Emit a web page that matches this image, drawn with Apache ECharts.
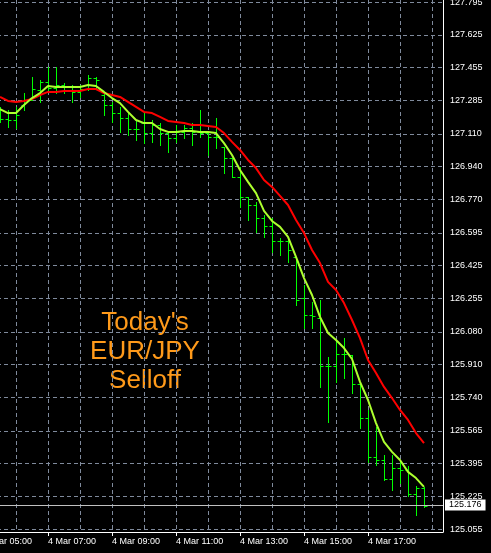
<!DOCTYPE html>
<html>
<head>
<meta charset="utf-8">
<script src="https://cdn.jsdelivr.net/npm/echarts@6/dist/echarts.min.js"></script>
<style>
html,body{margin:0;padding:0;background:#000;}
#chart{width:491px;height:553px;}
</style>
</head>
<body>
<div id="chart"></div>
<script>
// EUR/JPY M15 bars, 4 Mar
var firstBarHour = 5.5;      // 05:30
var barStepHours = 0.25;     // 15-minute bars
var opens = [127.224,127.187,127.182,127.260,127.286,127.338,127.380,127.348,127.364,127.359,
  127.328,127.343,127.400,127.312,127.260,127.218,127.192,127.135,127.166,127.114,
  127.156,127.114,127.088,127.120,127.140,127.120,127.114,127.094,127.042,126.984,
  126.886,126.782,126.740,126.672,126.631,126.553,126.553,126.470,126.256,126.168,
  126.152,125.903,125.903,125.965,125.960,125.809,125.632,125.430,125.414,125.315,
  125.372,125.362,125.237,125.268];
var highs = [127.250,127.234,127.250,127.322,127.406,127.390,127.458,127.458,127.374,127.364,
  127.364,127.416,127.406,127.328,127.276,127.250,127.224,127.182,127.218,127.182,
  127.166,127.120,127.156,127.156,127.166,127.234,127.114,127.192,127.042,126.984,
  126.938,126.782,126.756,126.688,126.672,126.568,126.574,126.470,126.324,126.236,
  126.246,125.950,126.038,126.048,125.960,125.820,125.674,125.586,125.440,125.440,
  125.409,125.383,125.279,125.274];
var lows = [127.172,127.146,127.140,127.234,127.286,127.276,127.328,127.322,127.322,127.276,
  127.302,127.338,127.348,127.208,127.172,127.120,127.104,127.078,127.062,127.068,
  127.052,127.016,127.068,127.088,127.052,127.094,127.000,127.036,126.906,126.886,
  126.730,126.662,126.600,126.574,126.496,126.480,126.444,126.220,126.100,126.100,
  125.794,125.612,125.820,125.840,125.762,125.580,125.404,125.388,125.310,125.258,
  125.294,125.227,125.128,125.170];
var closes = [127.187,127.182,127.208,127.286,127.343,127.380,127.348,127.364,127.359,127.328,
  127.343,127.400,127.390,127.260,127.218,127.192,127.135,127.135,127.114,127.156,
  127.114,127.088,127.120,127.140,127.120,127.114,127.094,127.094,126.984,126.886,
  126.782,126.740,126.672,126.631,126.553,126.553,126.506,126.246,126.168,126.163,
  125.903,125.903,125.965,125.965,125.809,125.632,125.430,125.414,125.315,125.372,
  125.362,125.237,125.268,125.176];
var fastMA = [127.239,127.218,127.218,127.260,127.296,127.322,127.359,127.354,127.354,127.354,
  127.354,127.364,127.359,127.328,127.296,127.270,127.224,127.182,127.166,127.166,
  127.135,127.120,127.120,127.125,127.125,127.120,127.120,127.114,127.062,127.000,
  126.922,126.860,126.802,126.709,126.657,126.626,126.574,126.470,126.360,126.272,
  126.158,126.074,126.038,125.996,125.939,125.820,125.726,125.606,125.508,125.456,
  125.414,125.352,125.320,125.274];
var slowMA = [127.302,127.281,127.276,127.281,127.291,127.312,127.328,127.328,127.333,127.333,
  127.333,127.343,127.343,127.322,127.312,127.302,127.276,127.250,127.224,127.218,
  127.198,127.177,127.172,127.166,127.156,127.156,127.151,127.146,127.114,127.068,
  127.026,126.974,126.932,126.870,126.834,126.787,126.740,126.662,126.594,126.506,
  126.438,126.340,126.298,126.230,126.142,126.048,125.934,125.866,125.794,125.736,
  125.674,125.622,125.554,125.502];
var priceTicks = [125.055,125.225,125.395,125.565,125.740,125.910,126.080,126.255,126.425,
  126.595,126.770,126.940,127.110,127.285,127.455,127.625,127.795];
var priceLabels = ['125.055','125.225','125.395','125.565','125.740','125.910','126.080','126.255','126.425',
  '126.595','126.770','126.940','127.110','127.285','127.455','127.625','127.795'];
var timeTickHours = [5,7,9,11,13,15,17];
var timeTickLabels = ['4 Mar 05:00','4 Mar 07:00','4 Mar 09:00','4 Mar 11:00','4 Mar 13:00','4 Mar 15:00','4 Mar 17:00'];
var gridHours = [5,6,7,8,9,10,11,12,13,14,15,16,17,18,19];
var lastPrice = 125.176;
var annotation = "Today's\nEUR/JPY\nSelloff";

var barData = [], fastData = [], slowData = [];
for (var i = 0; i < closes.length; i++) {
  var t = firstBarHour + i * barStepHours;
  barData.push([t, opens[i], highs[i], lows[i], closes[i]]);
  fastData.push([t, fastMA[i]]);
  slowData.push([t, slowMA[i]]);
}

var FONT = 'Liberation Sans';
var chart = echarts.init(document.getElementById('chart'), null, {renderer: 'canvas'});
var gridCol = '#7f8a9c';

chart.setOption({
  backgroundColor: '#000000',
  animation: false,
  grid: {left: -24, right: 48, top: 0, bottom: 21, containLabel: false, outerBoundsMode: 'none'},
  xAxis: [{
    type: 'value', min: 4.75, max: 19.34375,
    axisLine: {show: true, lineStyle: {color: '#ffffff', width: 1}},
    axisTick: {show: true, length: 4, inside: false, lineStyle: {color: '#ffffff'}, customValues: timeTickHours},
    axisLabel: {
      show: true, color: '#ffffff', fontFamily: FONT, fontSize: 9, margin: 5, align: 'left',
      customValues: timeTickHours, hideOverlap: false,
      formatter: function (v) { var k = timeTickHours.indexOf(v); return k >= 0 ? timeTickLabels[k] : ''; }
    },
    splitLine: {show: false}
  }, {
    type: 'value', min: 4.75, max: 19.34375, position: 'bottom',
    axisLine: {show: false}, axisLabel: {show: false},
    axisTick: {show: false, customValues: gridHours},
    splitLine: {show: true, lineStyle: {color: gridCol, type: [4, 3], width: 1}}
  }],
  yAxis: {
    type: 'value', position: 'right', min: 125.0395, max: 127.806,
    axisLine: {show: true, lineStyle: {color: '#ffffff', width: 1}},
    axisTick: {show: false, customValues: priceTicks},
    axisLabel: {
      color: '#ffffff', fontFamily: FONT, fontSize: 9, margin: 7,
      customValues: priceTicks,
      formatter: function (v) {
        var best = 0;
        for (var k = 0; k < priceTicks.length; k++) if (Math.abs(priceTicks[k] - v) < Math.abs(priceTicks[best] - v)) best = k;
        return priceLabels[best];
      }
    },
    splitLine: {show: true, lineStyle: {color: gridCol, type: [4, 3], width: 1}}
  },
  graphic: [{
    type: 'text', x: 145, y: 352,
    style: {
      text: annotation, fill: '#FF9A1A', font: '26px "Liberation Sans"',
      textAlign: 'center', textVerticalAlign: 'middle', lineHeight: 29
    }
  }],
  series: [{
    type: 'custom', xAxisIndex: 0, yAxisIndex: 0, data: barData, z: 2,
    renderItem: function (params, api) {
      var x = api.value(0);
      var ph = api.coord([x, api.value(2)]);
      var pl = api.coord([x, api.value(3)]);
      var po = api.coord([x, api.value(1)]);
      var pc = api.coord([x, api.value(4)]);
      var cx = Math.round(ph[0]) + 0.5;
      var oy = Math.round(po[1]) + 0.5, cy = Math.round(pc[1]) + 0.5;
      var st = {stroke: '#00ff00', lineWidth: 1};
      return {type: 'group', children: [
        {type: 'line', shape: {x1: cx, y1: Math.round(ph[1]), x2: cx, y2: Math.round(pl[1]) + 1}, style: st},
        {type: 'line', shape: {x1: cx - 3, y1: oy, x2: cx, y2: oy}, style: st},
        {type: 'line', shape: {x1: cx, y1: cy, x2: cx + 3, y2: cy}, style: st}
      ]};
    },
    markLine: {
      silent: true, symbol: ['none', 'none'], animation: false,
      lineStyle: {color: '#C0C0C0', type: 'solid', width: 1},
      label: {
        show: true, position: 'end', distance: 2, color: '#000000', backgroundColor: '#ffffff',
        fontFamily: FONT, fontSize: 9, padding: [1, 4, 1, 4],
        formatter: function () { return lastPrice.toFixed(3); }
      },
      data: [{yAxis: lastPrice}]
    }
  }, {
    type: 'line', data: slowData, showSymbol: false, z: 3,
    lineStyle: {color: '#ff0000', width: 2}
  }, {
    type: 'line', data: fastData, showSymbol: false, z: 4,
    lineStyle: {color: '#adff2f', width: 2}
  }]
});
</script>
</body>
</html>
